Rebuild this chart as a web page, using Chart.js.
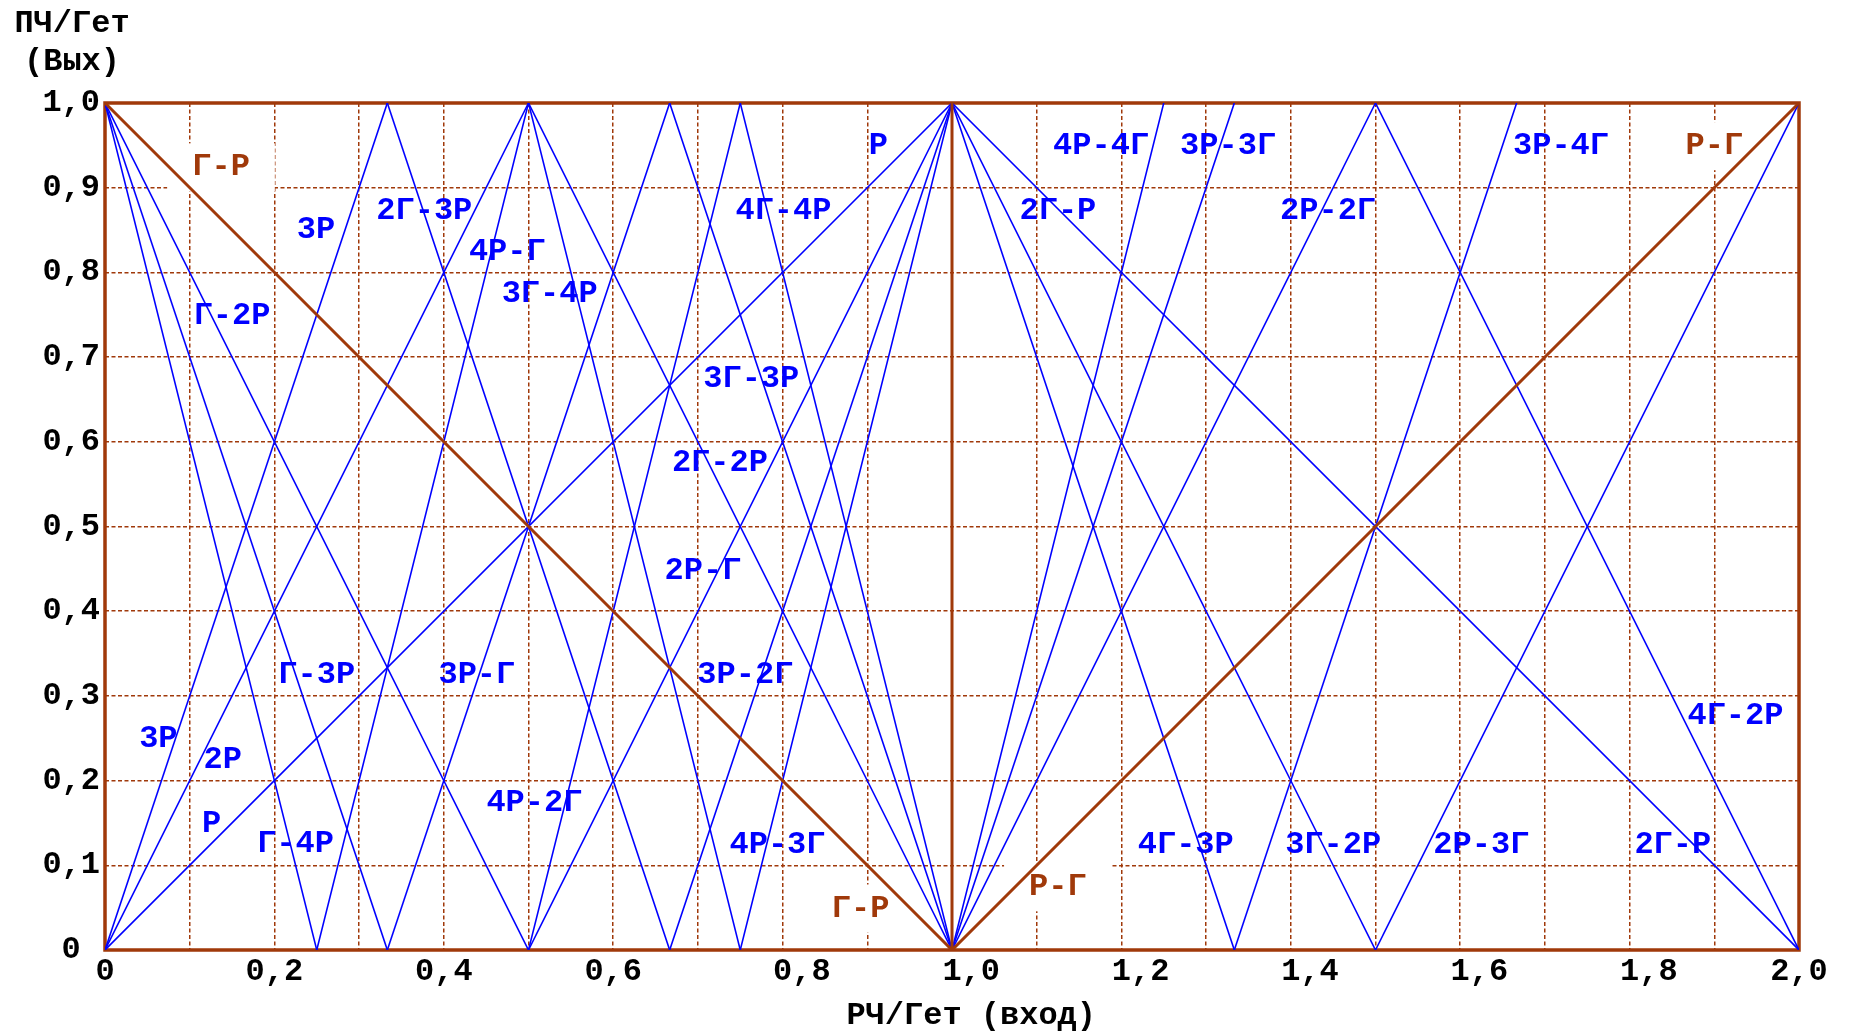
<!DOCTYPE html>
<html>
<head>
<meta charset="utf-8">
<script src="https://cdn.jsdelivr.net/npm/chart.js@4.4.1/dist/chart.umd.min.js"></script>
<style>
  html, body { margin: 0; padding: 0; background: #fff; }
</style>
</head>
<body>
<canvas id="chart" width="1850" height="1032"></canvas>
<script>
const BROWN = '#a0390a';
const BLUE = '#0000ff';
const FONT = '"Liberation Mono", "Courier New", monospace';

// axis ticks
const xTickLabels = ['0', '0,2', '0,4', '0,6', '0,8', '1,0', '1,2', '1,4', '1,6', '1,8', '2,0'];
const yTickLabels = ['0', '0,1', '0,2', '0,3', '0,4', '0,5', '0,6', '0,7', '0,8', '0,9', '1,0'];

// segments [x1, y1, x2, y2], x = RF/LO, y = IF/LO
const blueSegments = [
  [0, 0, 1, 1], [0, 0, 1/2, 1], [0, 0, 1/3, 1],
  [0, 1, 1/2, 0], [0, 1, 1/3, 0], [0, 1, 1/4, 0],
  [1/4, 0, 1/2, 1], [1/3, 0, 2/3, 1], [1/3, 1, 2/3, 0],
  [1/2, 0, 1, 1], [1/2, 0, 3/4, 1], [1/2, 1, 1, 0], [1/2, 1, 3/4, 0],
  [2/3, 0, 1, 1], [2/3, 1, 1, 0], [3/4, 0, 1, 1], [3/4, 1, 1, 0],
  [1, 1, 2, 0], [1, 1, 3/2, 0], [1, 1, 4/3, 0],
  [1, 0, 3/2, 1], [1, 0, 4/3, 1], [1, 0, 5/4, 1],
  [4/3, 0, 5/3, 1], [3/2, 0, 2, 1], [3/2, 1, 2, 0]
];
const brownSegments = [
  [0, 1, 1, 0], [1, 0, 2, 1], [1, 0, 1, 1]
];

// curve names
const blueLabels = ['3Р', '2Г-3Р', '4Р-Г', '3Г-4Р', '4Г-4Р', 'Р', 'Г-2Р', '3Г-3Р', '2Г-2Р', '2Р-Г',
  'Г-3Р', '3Р-Г', '3Р-2Г', '3Р', '2Р', 'Р', 'Г-4Р', '4Р-2Г', '4Р-3Г',
  '2Г-Р', '4Р-4Г', '3Р-3Г', '2Р-2Г', '3Р-4Г', '4Г-2Р', '4Г-3Р', '3Г-2Р', '2Р-3Г', '2Г-Р'];
const blueLabelX = [0.249, 0.377, 0.475, 0.525, 0.801, 0.913, 0.150, 0.763, 0.726, 0.706,
  0.250, 0.439, 0.756, 0.063, 0.139, 0.126, 0.225, 0.507, 0.794,
  1.125, 1.176, 1.326, 1.444, 1.719, 1.925, 1.276, 1.450, 1.625, 1.851];
const blueLabelY = [0.850, 0.873, 0.824, 0.774, 0.873, 0.949, 0.749, 0.674, 0.575, 0.448,
  0.325, 0.325, 0.325, 0.249, 0.224, 0.149, 0.125, 0.174, 0.124,
  0.873, 0.949, 0.949, 0.873, 0.949, 0.276, 0.124, 0.124, 0.124, 0.124];
const brownLabels = ['Г-Р', 'Г-Р', 'Р-Г', 'Р-Г'];
const brownLabelX = [0.137, 0.892, 1.125, 1.900];
const brownLabelY = [0.924, 0.049, 0.074, 0.949];

function segmentDataset(seg, color, width, order) {
  return {
    data: [{ x: seg[0], y: seg[1] }, { x: seg[2], y: seg[3] }],
    showLine: true,
    borderColor: color,
    borderWidth: width,
    pointRadius: 0,
    fill: false,
    order: order
  };
}

const datasets = [
  ...brownSegments.map(s => segmentDataset(s, BROWN, 3, 0)),
  ...blueSegments.map(s => segmentDataset(s, BLUE, 1.6, 1))
];

const labelFont = 'bold 32px ' + FONT;

// white boxes behind the brown names, then the frame
const labelsPlugin = {
  id: 'curveLabels',
  beforeDatasetsDraw(chart) {
    const { ctx, chartArea, scales: { x, y } } = chart;
    ctx.save();
    ctx.font = labelFont;
    ctx.fillStyle = '#fff';
    brownLabels.forEach((t, i) => {
      const w = ctx.measureText(t).width;
      const px = x.getPixelForValue(brownLabelX[i]);
      const py = y.getPixelForValue(brownLabelY[i]);
      ctx.fillRect(px - w / 2 - 25, py - 24, w + 50, 48);
    });
    ctx.strokeStyle = BROWN;
    ctx.lineWidth = 3.5;
    ctx.strokeRect(chartArea.left, chartArea.top, chartArea.right - chartArea.left, chartArea.bottom - chartArea.top);
    ctx.restore();
  },
  afterDatasetsDraw(chart) {
    const { ctx, scales: { x, y } } = chart;
    ctx.save();
    ctx.font = labelFont;
    ctx.textAlign = 'center';
    ctx.textBaseline = 'middle';
    ctx.fillStyle = BLUE;
    blueLabels.forEach((t, i) => {
      ctx.fillText(t, x.getPixelForValue(blueLabelX[i]), y.getPixelForValue(blueLabelY[i]));
    });
    ctx.fillStyle = BROWN;
    brownLabels.forEach((t, i) => {
      ctx.fillText(t, x.getPixelForValue(brownLabelX[i]), y.getPixelForValue(brownLabelY[i]));
    });
    // y axis title, stacked above the tick labels
    ctx.fillStyle = '#000';
    ctx.fillText('ПЧ/Гет', 72, 24);
    ctx.fillText('(Вых)', 72, 62);
    ctx.restore();
  }
};

new Chart(document.getElementById('chart'), {
  type: 'scatter',
  data: { datasets },
  options: {
    responsive: false,
    animation: false,
    layout: { padding: { left: 0, right: 51, top: 103, bottom: 0 } },
    plugins: { legend: { display: false }, tooltip: { enabled: false } },
    scales: {
      x: {
        type: 'linear',
        min: 0,
        max: 2,
        afterFit(scale) { scale.height = 82; },
        grid: { color: BROWN, lineWidth: 1.5, drawTicks: false },
        border: { display: false, dash: [4, 2.5] },
        ticks: {
          stepSize: 0.1,
          autoSkip: false,
          maxRotation: 0,
          padding: 3,
          color: '#000',
          font: { family: FONT, size: 32, weight: 'bold' },
          // labels 0,8 ... 1,8 sit a little right of their grid line in the original
          callback: (v, i) => {
            if (i % 2) return '';
            const s = xTickLabels[i / 2];
            return (v > 0.7 && v < 1.9) ? '  ' + s : s;
          }
        },
        title: {
          display: true,
          text: '  РЧ/Гет (вход)',
          color: '#000',
          padding: 0,
          font: { family: FONT, size: 32, weight: 'bold', lineHeight: 1 }
        }
      },
      y: {
        type: 'linear',
        min: 0,
        max: 1,
        afterFit(scale) { scale.width = 105; },
        grid: { color: BROWN, lineWidth: 1.5, drawTicks: false },
        border: { display: false, dash: [4, 2.5] },
        ticks: {
          stepSize: 0.1,
          autoSkip: false,
          crossAlign: 'center',
          padding: 5,
          color: '#000',
          font: { family: FONT, size: 32, weight: 'bold' },
          callback: (v, i) => yTickLabels[i]
        }
      }
    }
  },
  plugins: [labelsPlugin]
});
</script>
</body>
</html>
